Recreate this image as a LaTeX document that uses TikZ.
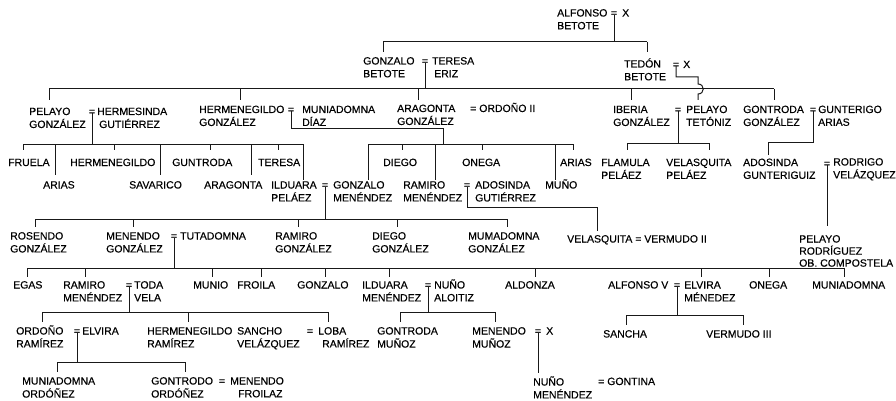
\documentclass[tikz,border=0pt]{standalone}
\usepackage{fontspec}
\setmainfont{Liberation Sans}[FakeBold=0.35]
\newcommand{\twol}[2]{\begin{tabular}[t]{@{}l@{}}#1\\#2\end{tabular}}
\begin{document}
\begin{tikzpicture}[x=1pt,y=-1pt,
  lbl/.style={anchor=base west,inner sep=0pt,font=\fontsize{10.5}{12.8}\selectfont},
  eq/.style={anchor=base,inner sep=0pt,font=\fontsize{10.5}{12.8}\selectfont},
  ln/.style={line width=1pt,draw=black!90}]
\fill[white] (0,0) rectangle (896,401);
\useasboundingbox (0,0) rectangle (896,401);
% ---------- row A
\node[lbl] (alf) at (557,16.5) {\twol{ALFONSO}{BETOTE}};
\node[eq] (eqA) at (614,16.5) {=};
\node[lbl] (alfx) at (622,16.5) {X};
% ---------- row B
\node[lbl] (gon) at (363,64.5) {\twol{GONZALO}{BETOTE}};
\node[eq] (eqB) at (425,64.5) {=};
\node[lbl] (ter) at (432,64.5) {\twol{TERESA}{\hspace{2pt}ERIZ}};
\node[lbl] (ted) at (624,67.5) {\twol{TEDÓN}{BETOTE}};
\node[eq] (eqT) at (676,68) {=};
\node[lbl] (tedx) at (683,68) {X};
% ---------- row C
\node[lbl] (pel) at (29,115) {\twol{PELAYO}{GONZÁLEZ}};
\node[eq] (eqP) at (92,115) {=};
\node[lbl] (hrs) at (97,115) {\twol{HERMESINDA}{\hspace{2pt}GUTIÉRREZ}};
\node[lbl] (hrm) at (199,113) {\twol{HERMENEGILDO}{GONZÁLEZ}};
\node[eq] (eqH) at (291,113) {=};
\node[lbl] (mun) at (302,113) {\twol{MUNIADOMNA}{DÍAZ}};
\node[lbl] (ara) at (397,112) {\twol{ARAGONTA}{GONZÁLEZ}};
\node[lbl] (ordII) at (470,112) {= ORDOÑO II};
\node[lbl] (ibe) at (613,113) {\twol{IBERIA}{GONZÁLEZ}};
\node[eq] (eqI) at (678,113) {=};
\node[lbl] (pet) at (686,113) {\twol{PELAYO}{TETÓNIZ}};
\node[lbl] (gtr) at (743,113) {\twol{GONTRODA}{GONZÁLEZ}};
\node[eq] (eqG) at (813,113) {=};
\node[lbl] (gun) at (818,113) {\twol{GUNTERIGO}{ARIAS}};
% ---------- row D
\node[lbl] (fru) at (8,166) {FRUELA};
\node[lbl] (hrm2) at (70,166) {HERMENEGILDO};
\node[lbl] (gun2) at (172,166) {GUNTRODA};
\node[lbl] (tre) at (258,166) {TERESA};
\node[lbl] (die) at (383,166) {DIEGO};
\node[lbl] (one) at (462,166) {ONEGA};
\node[lbl] (ari2) at (560,166) {ARIAS};
\node[lbl] (fla) at (601,166) {\twol{FLAMULA}{PELÁEZ}};
\node[lbl] (vel2) at (666,166) {\twol{VELASQUITA}{PELÁEZ}};
\node[lbl] (ado2) at (743,166) {\twol{ADOSINDA}{GUNTERIGUIZ}};
\node[eq] (eqR) at (827,167) {=};
\node[lbl] (rod) at (833,165.5) {\twol{RODRIGO}{VELÁZQUEZ}};
% ---------- row E
\node[lbl] (ari) at (43,188.5) {ARIAS};
\node[lbl] (sav) at (129,188.5) {SAVARICO};
\node[lbl] (ara2) at (204,188.5) {ARAGONTA};
\node[lbl] (ild) at (271,188.5) {\twol{ILDUARA}{PELÁEZ}};
\node[eq] (eqIG) at (325,188.5) {=};
\node[lbl] (gmn) at (333,188.5) {\twol{GONZALO}{MENÉNDEZ}};
\node[lbl] (ram) at (403,188.5) {\twol{RAMIRO}{MENÉNDEZ}};
\node[eq] (eqRA) at (467,188.5) {=};
\node[lbl] (ado) at (475,188.5) {\twol{ADOSINDA}{GUTIÉRREZ}};
\node[lbl] (muo) at (545,188.5) {MUÑO};
% ---------- row F
\node[lbl] (ros) at (10,239.5) {\twol{ROSENDO}{GONZÁLEZ}};
\node[lbl] (men) at (106,239.5) {\twol{MENENDO}{GONZÁLEZ}};
\node[eq] (eqM) at (174,239.5) {=};
\node[lbl] (tut) at (180,239.5) {TUTADOMNA};
\node[lbl] (rag) at (275,239.5) {\twol{RAMIRO}{GONZÁLEZ}};
\node[lbl] (dig) at (372,239.5) {\twol{DIEGO}{GONZÁLEZ}};
\node[lbl] (mum) at (468,239.5) {\twol{MUMADOMNA}{GONZÁLEZ}};
\node[lbl] (vlq) at (567,242.5) {VELASQUITA = VERMUDO II};
\node[lbl] (pro) at (799,242.5) {\begin{tabular}[t]{@{}l@{}}PELAYO\\[-0.8pt]RODRÍGUEZ\\[-0.8pt]OB.\ COMPOSTELA\end{tabular}};
% ---------- row G
\node[lbl] (ega) at (13,288.5) {EGAS};
\node[lbl] (ram2) at (63,288.5) {\twol{RAMIRO}{MENÉNDEZ}};
\node[eq] (eqRT) at (129,288.5) {=};
\node[lbl] (tod) at (134,288.5) {\twol{TODA}{VELA}};
\node[lbl] (mnu) at (193,288.5) {MUNIO};
\node[lbl] (fro) at (237,288.5) {FROILA};
\node[lbl] (gzl) at (297,288.5) {GONZALO};
\node[lbl] (ild2) at (362,288.5) {\twol{ILDUARA}{MENÉNDEZ}};
\node[eq] (eqIN) at (428,288.5) {=};
\node[lbl] (nun) at (434,288.5) {\twol{NUÑO}{ALOITIZ}};
\node[lbl] (ald) at (505,288.5) {ALDONZA};
\node[lbl] (alv) at (608,288.5) {ALFONSO V};
\node[eq] (eqAE) at (677,288.5) {=};
\node[lbl] (elv) at (684,288.5) {\twol{ELVIRA}{MÉNEDEZ}};
\node[lbl] (one2) at (749,288.5) {ONEGA};
\node[lbl] (mnd) at (812,288.5) {MUNIADOMNA};
% ---------- row H
\node[lbl] (ord) at (16,334.5) {\twol{ORDOÑO}{RAMÍREZ}};
\node[eq] (eqOE) at (77,334.5) {=};
\node[lbl] (elv2) at (82,334.5) {ELVIRA};
\node[lbl] (hrr) at (147,334.5) {\twol{HERMENEGILDO}{RAMÍREZ}};
\node[lbl] (san) at (237,334.5) {\twol{SANCHO}{VELÁZQUEZ}};
\node[eq] (eqSL) at (310,334.5) {=};
\node[lbl] (lob) at (318,334.5) {\twol{LOBA}{\hspace{4pt}RAMÍREZ}};
\node[lbl] (gmz) at (377,334.5) {\twol{GONTRODA}{MUÑOZ}};
\node[lbl] (mmz) at (472,334.5) {\twol{MENENDO}{MUÑOZ}};
\node[eq] (eqMX) at (538,334.5) {=};
\node[lbl] (xx) at (546,334.5) {X};
\node[lbl] (sch) at (603,337.5) {SANCHA};
\node[lbl] (ver) at (706,337.5) {VERMUDO III};
% ---------- row I
\node[lbl] (muo2) at (22,384.5) {\twol{MUNIADOMNA}{ORDÓÑEZ}};
\node[lbl] (gtd) at (151,384.5) {\twol{GONTRODO}{ORDÓÑEZ}};
\node[eq] (eqGM) at (222,384.5) {=};
\node[lbl] (mfr) at (230,384.5) {\twol{MENENDO}{\hspace{8pt}FROILAZ}};
\node[lbl] (nme) at (533,385.5) {\twol{NUÑO}{MENÉNDEZ}};
\node[lbl] (gtn) at (598,385) {= GONTINA};
% ---------- bus levels
\coordinate (yA) at (0,42);
\coordinate (yB) at (0,89);
\coordinate (yP) at (0,144);
\coordinate (yI) at (0,143);
\coordinate (yR) at (0,226);
\coordinate (yIG) at (0,219);
\coordinate (yM) at (0,268);
\coordinate (yRT) at (0,312);
\coordinate (yAE) at (0,315);
\coordinate (yOE) at (0,362);
\coordinate (yMX) at (0,373);
% ---------- connectors
\begin{scope}[ln]
% Alfonso = X
\draw ([yshift=2pt]eqA.south) -- (eqA |- yA);
\draw (383,42) -- (647,42);
\draw (383,42) -- (383,52);
\draw (647,42) -- (647,52);
% Gonzalo = Teresa
\draw ([yshift=2pt]eqB.south) -- (eqB |- yB);
\draw (49,89) -- (774,89);
\foreach \x in {49,240,418,631,774} \draw (\x,89) -- (\x,100);
% Tedon = X  (hops over the bus)
\draw ([yshift=2pt]eqT.south) |- (698,77) -- (698,84)
      .. controls (705,84) and (705,94) .. (698,94) -- (698,100);
% Pelayo = Hermesinda
\draw ([yshift=2pt]eqP.south) -- (eqP |- yP);
\draw (23,144) -- (303,144);
\foreach \x/\e in {23/150,55/175,114/150,160/175,210/150,251/175,278/150,303/180}
  \draw (\x,144) -- (\x,\e);
% Hermenegildo = Muniadomna
\draw ([yshift=2pt]eqH.south) |- (443,128) -- (443,144);
\draw (368,144) -- (573,144);
\foreach \x/\e in {368/180,402/150,435/180,482/150,555/180,573/150}
  \draw (\x,144) -- (\x,\e);
% Iberia = Pelayo
\draw ([yshift=2pt]eqI.south) -- (eqI |- yI);
\draw (627,143) -- (709,143);
\foreach \x in {627,709} \draw (\x,143) -- (\x,150);
% Gontroda = Gunterigo
\draw ([yshift=2pt]eqG.south) |- (768,142) -- (768,155);
% Adosinda = Rodrigo
\draw ([yshift=2pt]eqR.south) -- (eqR |- yR);
% Ilduara = Gonzalo
\draw ([yshift=2pt]eqIG.south) -- (eqIG |- yIG);
\draw (35,219) -- (507,219);
\foreach \x in {35,133,298,397,507} \draw (\x,219) -- (\x,227);
% Ramiro = Adosinda
\draw ([yshift=2pt]eqRA.south) |- (597,207) -- (597,231);
% Menendo = Tutadomna
\draw ([yshift=2pt]eqM.south) -- (eqM |- yM);
\draw (27,268) -- (844,268);
\foreach \x in {27,85,212,261,325,389,535,701,769,844} \draw (\x,268) -- (\x,277);
% Ramiro = Toda
\draw ([yshift=2pt]eqRT.south) -- (eqRT |- yRT);
\draw (42,312) -- (328,312);
\foreach \x in {42,188,328} \draw (\x,312) -- (\x,322);
% Ilduara = Nuno
\draw ([yshift=2pt]eqIN.south) -- (eqIN |- yRT);
\draw (400,312) -- (495,312);
\foreach \x in {400,495} \draw (\x,312) -- (\x,322);
% Alfonso V = Elvira
\draw ([yshift=2pt]eqAE.south) -- (eqAE |- yAE);
\draw (626,315) -- (743,315);
\foreach \x in {626,743} \draw (\x,315) -- (\x,325);
% Ordono = Elvira
\draw ([yshift=2pt]eqOE.south) -- (eqOE |- yOE);
\draw (57,362) -- (185,362);
\foreach \x in {57,185} \draw (\x,362) -- (\x,372);
% Menendo = X
\draw ([yshift=2pt]eqMX.south) -- (eqMX |- yMX);
\end{scope}
\end{tikzpicture}
\end{document}
